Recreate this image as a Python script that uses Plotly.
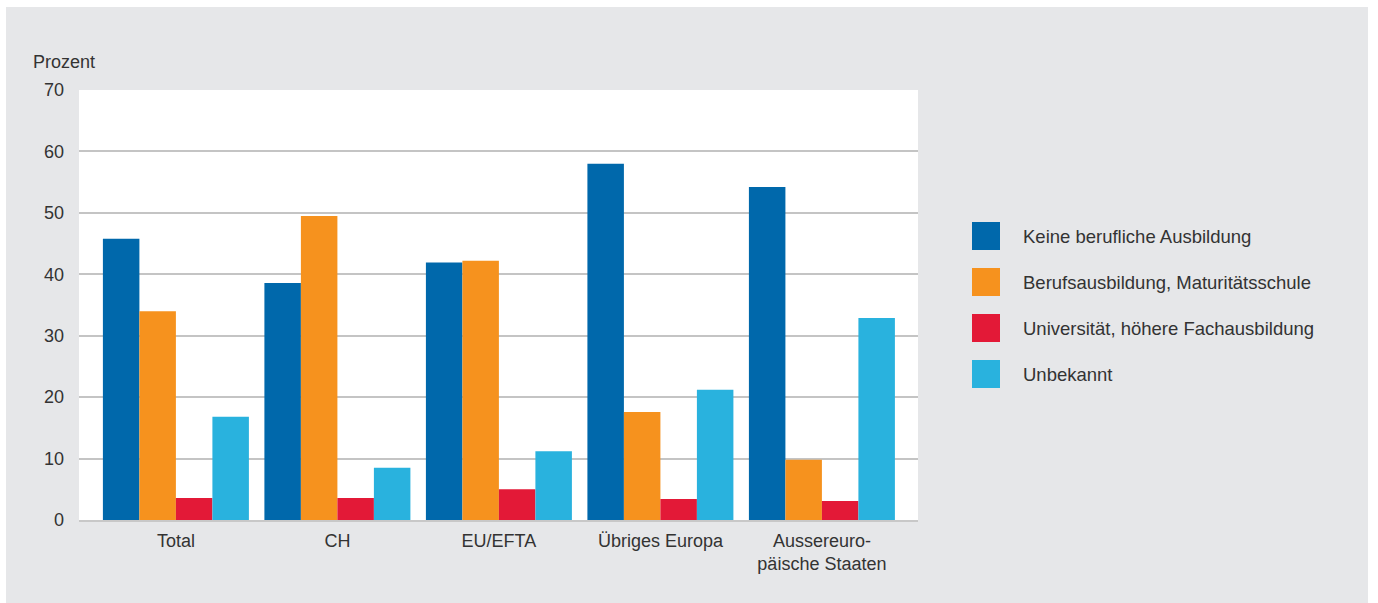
import plotly.graph_objects as go

categories = ["Total", "CH", "EU/EFTA", "Übriges Europa", "Aussereuro-<br>päische Staaten"]
series_names = [
    "Keine berufliche Ausbildung",
    "Berufsausbildung, Maturitätsschule",
    "Universität, höhere Fachausbildung",
    "Unbekannt",
]
keine = [45.8, 38.6, 41.9, 58.0, 54.2]
beruf = [34.0, 49.5, 42.2, 17.6, 9.8]
uni = [3.6, 3.6, 5.0, 3.4, 3.1]
unbekannt = [16.8, 8.5, 11.2, 21.2, 32.9]
y_ticks = [0, 10, 20, 30, 40, 50, 60, 70]

colors = ["#0068ab", "#f6921e", "#e31937", "#29b2de"]
values = [keine, beruf, uni, unbekannt]

W, H = 1378, 603
L, R, T, B = 79, 918, 90, 520
FONT = "Liberation Sans, Arial, sans-serif"
TXT = "#333333"
GRAY = "#e6e7e9"

def px(x):
    return (x - L) / (R - L)

def py(y):
    return (B - y) / (B - T)

fig = go.Figure()
for name, vals, col in zip(series_names, values, colors):
    fig.add_trace(go.Bar(x=categories, y=vals, name=name, marker_color=col,
                         marker_line_width=0, showlegend=False))

shapes = [
    # white border strips around the grey panel
    dict(type="rect", xref="paper", yref="paper", x0=px(0), x1=px(W), y0=py(0), y1=py(7),
         fillcolor="white", line_width=0, layer="below"),
    dict(type="rect", xref="paper", yref="paper", x0=px(0), x1=px(6), y0=py(H), y1=py(0),
         fillcolor="white", line_width=0, layer="below"),
    dict(type="rect", xref="paper", yref="paper", x0=px(1368), x1=px(W), y0=py(H), y1=py(0),
         fillcolor="white", line_width=0, layer="below"),
]
annotations = [
    dict(text="Prozent", xref="paper", yref="paper", x=px(31), y=py(62), xanchor="left",
         yanchor="middle", showarrow=False, font=dict(family=FONT, size=18, color=TXT)),
]
leg_y = [236, 282, 328, 374]
for name, col, cy in zip(series_names, colors, leg_y):
    shapes.append(dict(type="rect", xref="paper", yref="paper", x0=px(972), x1=px(1000),
                       y0=py(cy + 14), y1=py(cy - 14), fillcolor=col, line_width=0))
    annotations.append(dict(text=name, xref="paper", yref="paper", x=px(1021), y=py(cy),
                            xanchor="left", yanchor="middle", showarrow=False,
                            font=dict(family=FONT, size=18.5, color=TXT)))

fig.update_layout(
    width=W, height=H,
    margin=dict(l=L, r=W - R, t=T, b=H - B, pad=0),
    paper_bgcolor=GRAY, plot_bgcolor="white",
    barmode="group", bargap=0.096, bargroupgap=0,
    font=dict(family=FONT, size=18, color=TXT),
    shapes=shapes, annotations=annotations,
    xaxis=dict(showgrid=False, ticks="", showline=True, linecolor="#c8c8c8", linewidth=2,
               range=[-0.60, 4.595], tickfont=dict(size=18, color=TXT), ticklabelstandoff=3),
    yaxis=dict(range=[0, 70], tickvals=y_ticks, showgrid=True, gridcolor="#c4c4c4",
               gridwidth=1.5, zeroline=False, ticks="", ticklabelstandoff=14,
               tickfont=dict(size=18, color=TXT)),
)

fig.write_html("out.html")
